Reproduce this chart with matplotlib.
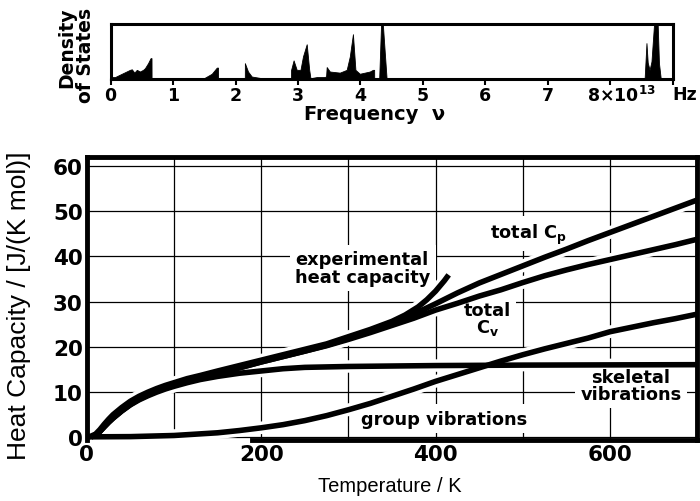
import matplotlib
matplotlib.use("Agg")
import matplotlib.pyplot as plt

# phonon density of states (frequency in 1e13 Hz, relative height)
dos_freq = [0.00, 0.02, 0.07, 0.18, 0.31, 0.34, 0.38, 0.42, 0.47, 0.52, 0.55, 0.60, 0.64, 0.655, 0.656,
            1.45, 1.48, 1.62, 1.70, 1.72, 1.721,
            2.149, 2.15, 2.20, 2.26, 2.42, 2.55, 2.56,
            2.889, 2.89, 2.93, 2.98, 3.04, 3.08, 3.14, 3.18, 3.20, 3.30, 3.42, 3.45, 3.46,
            3.51, 3.67, 3.78, 3.83, 3.88, 3.92, 3.99, 4.15, 4.20, 4.22, 4.221,
            4.30, 4.33, 4.36, 4.39, 4.42,
            8.55, 8.58, 8.60, 8.63, 8.66, 8.70, 8.76, 8.78, 8.81]
dos_height = [0.00, 0.04, 0.04, 0.10, 0.17, 0.18, 0.12, 0.17, 0.14, 0.17, 0.20, 0.29, 0.38, 0.38, 0.00,
              0.00, 0.01, 0.10, 0.21, 0.21, 0.00,
              0.00, 0.29, 0.14, 0.05, 0.02, 0.01, 0.00,
              0.00, 0.17, 0.34, 0.17, 0.17, 0.41, 0.63, 0.17, 0.02, 0.04, 0.04, 0.05, 0.22,
              0.14, 0.12, 0.17, 0.41, 0.81, 0.17, 0.10, 0.14, 0.17, 0.17, 0.00,
              0.00, 0.97, 0.97, 0.48, 0.00,
              0.00, 0.65, 0.30, 0.17, 0.32, 0.97, 0.97, 0.29, 0.00]
dos_ticks = [0, 1, 2, 3, 4, 5, 6, 7, 8, 9]
dos_ticklabels = ["0", "1", "2", "3", "4", "5", "6", "7", "", ""]

# heat capacity curves, J/(K mol) against temperature in K
skel_T = [5, 10, 15, 20, 25, 30, 35, 40, 50, 60, 70, 80, 90, 100, 115, 130, 150, 175, 200, 225, 250,
          275, 300, 350, 400, 500, 600, 700]
skel_C = [0, 0.4, 1.2, 2.2, 3.2, 4.1, 4.9, 5.7, 7.1, 8.2, 9.1, 9.9, 10.6, 11.2, 12.0, 12.7, 13.4, 14.1,
          14.6, 15.1, 15.4, 15.5, 15.6, 15.7, 15.8, 15.9, 15.95, 16.0]

group_T = [0, 50, 100, 125, 150, 175, 200, 225, 250, 275, 300, 325, 350, 375, 400, 425, 450, 475, 500,
           525, 550, 575, 600, 625, 650, 675, 700]
group_C = [0, 0.05, 0.3, 0.6, 0.9, 1.4, 2.0, 2.7, 3.6, 4.7, 6.0, 7.4, 9.0, 10.6, 12.3, 13.8, 15.3, 16.8,
           18.2, 19.5, 20.7, 21.9, 23.3, 24.3, 25.3, 26.2, 27.2]

cv_T = [5, 10, 15, 20, 25, 30, 35, 40, 50, 60, 70, 80, 90, 100, 115, 130, 150, 175, 200, 225, 250, 275,
        300, 325, 350, 375, 400, 425, 450, 475, 500, 525, 550, 575, 600, 625, 650, 675, 700]
cv_C = [0, 0.4, 1.2, 2.3, 3.3, 4.2, 5.0, 5.8, 7.2, 8.4, 9.3, 10.2, 10.9, 11.5, 12.4, 13.1, 14.1, 15.3,
        16.6, 17.8, 19.0, 20.2, 21.6, 23.1, 24.7, 26.3, 28.1, 29.6, 31.2, 32.6, 34.2, 35.7, 37.0, 38.2,
        39.3, 40.4, 41.5, 42.6, 43.8]

cp_T = [5, 10, 15, 20, 25, 30, 35, 40, 50, 60, 70, 80, 90, 100, 115, 130, 150, 175, 200, 225, 250, 275,
        300, 325, 350, 375, 400, 425, 450, 475, 500, 525, 550, 575, 600, 625, 650, 675, 700]
cp_C = [0, 0.4, 1.2, 2.3, 3.3, 4.2, 5.0, 5.8, 7.2, 8.4, 9.3, 10.2, 10.9, 11.5, 12.4, 13.1, 14.1, 15.3,
        16.6, 17.8, 19.0, 20.3, 21.8, 23.4, 25.1, 27.2, 29.5, 31.9, 34.1, 36.0, 37.9, 39.8, 41.6, 43.5,
        45.3, 47.1, 48.9, 50.7, 52.5]

exp_T = [3, 10, 15, 20, 25, 30, 35, 40, 50, 60, 70, 80, 90, 100, 115, 130, 150, 175, 200, 225, 250, 275,
         300, 325, 350, 365, 380, 390, 400, 410, 415]
exp_C = [0, 0.6, 1.6, 2.8, 3.9, 4.9, 5.7, 6.5, 7.9, 9.0, 9.9, 10.7, 11.4, 12.0, 12.9, 13.6, 14.6, 15.8,
         17.0, 18.2, 19.4, 20.6, 22.2, 23.8, 25.6, 27.0, 28.8, 30.4, 32.3, 34.6, 35.9]

bold = dict(family="DejaVu Sans", weight="bold")

fig = plt.figure(figsize=(7.0, 5.02), dpi=100)

# --- density of states panel ---
ax1 = fig.add_axes([0.158, 0.840, 0.803, 0.111])
ax1.fill_between(dos_freq, 0, dos_height, color="black", lw=0.6, edgecolor="black")
ax1.set_xlim(0, 9)
ax1.set_ylim(0, 1)
ax1.set_yticks([])
ax1.set_xticks(dos_ticks)
ax1.set_xticklabels(dos_ticklabels, fontsize=12.5, **bold)
ax1.tick_params(axis="x", direction="out", length=4, width=1.5, pad=1)
for s in ax1.spines.values():
    s.set_linewidth(2.2)
ax1.text(7.62, -0.10, "8\u00d710$^{\\mathbf{13}}$", ha="left", va="top", fontsize=12.5, **bold)
ax1.text(9.0, -0.10, "Hz", ha="left", va="top", fontsize=12.5, **bold)
ax1.text(-0.55, 1.30, "Density\nof States", rotation=90, ha="center", va="top",
         multialignment="right", fontsize=13.5, linespacing=0.95, **bold)
fig.text(0.535, 0.772, "Frequency  \u03bd", ha="center", va="center", fontsize=14, **bold)

# --- heat capacity panel ---
ax = fig.add_axes([0.124, 0.1215, 0.872, 0.5635])
ax.set_xlim(0, 700)
ax.set_ylim(-0.7, 62)
ax.set_xticks([0, 200, 400, 600])
ax.set_yticks([0, 10, 20, 30, 40, 50, 60])
ax.set_xticks([100, 300, 500, 700], minor=True)
for lbl in ax.get_xticklabels() + ax.get_yticklabels():
    lbl.set_fontsize(15.5)
    lbl.set_fontweight("bold")
ax.tick_params(which="both", length=0, pad=3)
ax.grid(True, which="both", color="black", lw=0.9)
ax.set_axisbelow(True)
for s in ax.spines.values():
    s.set_linewidth(3.5)
ax.spines["bottom"].set_bounds(190, 700)

curves = [(skel_T, skel_C), (group_T, group_C), (cv_T, cv_C), (cp_T, cp_C), (exp_T, exp_C)]
# white casing under every curve breaks the grid lines around it
for t, c in curves:
    ax.plot(t, c, color="white", lw=9, solid_capstyle="butt", zorder=2)
for t, c in curves:
    ax.plot(t, c, color="black", lw=4, solid_capstyle="butt", solid_joinstyle="round", zorder=3)

box = dict(facecolor="white", edgecolor="none", boxstyle="square,pad=0.3")
ax.text(239, 37.4, "experimental\nheat capacity", ha="left", va="center", fontsize=12.8,
        linespacing=1.0, bbox=box, zorder=2.5, **bold)
ax.text(507, 45.0, "total C$_{\\mathbf{p}}$", ha="center", va="center", fontsize=12.8,
        bbox=box, zorder=2.5, **bold)
ax.text(459, 26.1, "total\nC$_{\\mathbf{v}}$", ha="center", va="center", fontsize=12.8,
        linespacing=0.9, bbox=box, zorder=2.5, **bold)
ax.text(624, 11.4, "skeletal\nvibrations", ha="center", va="center", fontsize=12.8,
        linespacing=0.95, bbox=box, zorder=2.5, **bold)
ax.text(410, 4.0, "group vibrations", ha="center", va="center", fontsize=12.8,
        bbox=box, zorder=2.5, **bold)

fig.text(0.557, 0.030, "Temperature / K", ha="center", va="center", fontsize=14.5,
         family="Liberation Sans")
fig.text(0.027, 0.390, "Heat Capacity / [J/(K mol)]", ha="center", va="center", rotation=90,
         fontsize=19, family="Liberation Sans")

fig.savefig("out.png", dpi=100)
